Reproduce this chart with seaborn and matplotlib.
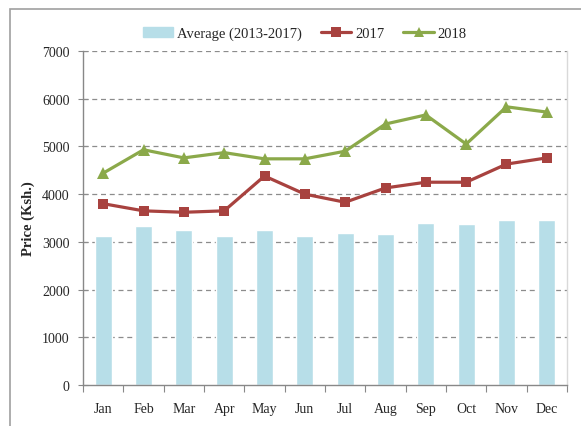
import numpy as np
import pandas as pd
import matplotlib
matplotlib.use('Agg')
import matplotlib.pyplot as plt
import matplotlib.patches as mpatches
from matplotlib.lines import Line2D
from matplotlib.ticker import MultipleLocator
import seaborn as sns

months = ['Jan', 'Feb', 'Mar', 'Apr', 'May', 'Jun', 'Jul', 'Aug', 'Sep', 'Oct', 'Nov', 'Dec']
avg_2013_2017 = [3130, 3340, 3240, 3130, 3240, 3130, 3185, 3160, 3395, 3370, 3450, 3450]
price_2017 = [3800, 3650, 3620, 3650, 4380, 4000, 3830, 4130, 4250, 4250, 4630, 4760]
price_2018 = [4440, 4930, 4760, 4870, 4740, 4740, 4900, 5470, 5660, 5050, 5830, 5720]

bar_col = '#B7DEE8'
red = '#A8423F'
green = '#8BA94A'

sns.set_style('white')
plt.rcParams['font.family'] = ['Liberation Serif', 'DejaVu Serif']

df = pd.DataFrame({'month': months, 'avg': avg_2013_2017,
                   'y2017': price_2017, 'y2018': price_2018})
df['pos'] = np.arange(len(months))

fig = plt.figure(figsize=(5.81, 4.27), dpi=100)
# outer frame of the chart
fig.patches.append(mpatches.Rectangle((10 / 581, -0.1), 1.2, 1.1 - 10 / 427,
                                      transform=fig.transFigure, fill=False,
                                      edgecolor='#A0A0A0', linewidth=1.2))
ax = fig.add_axes([83 / 581, 1 - 386 / 427, 484 / 581, 334 / 427])

sns.barplot(data=df, x='month', y='avg', color=bar_col, width=0.42,
            saturation=1, ax=ax, zorder=2)
sns.lineplot(data=df, x='pos', y='y2017', color=red, marker='s', markersize=7,
             markeredgewidth=0, linewidth=2.3, ax=ax, zorder=3)
sns.lineplot(data=df, x='pos', y='y2018', color=green, marker='^', markersize=8,
             markeredgewidth=0, linewidth=2.3, ax=ax, zorder=3)

ax.set_xlim(-0.5, 11.5)
ax.set_ylim(0, 7000)
ax.yaxis.set_major_locator(MultipleLocator(1000))
ax.set_xlabel('')
ax.set_ylabel('Price (Ksh.)', fontsize=10.5, fontweight='bold', labelpad=5)

for y in range(1000, 7001, 1000):
    ax.axhline(y, color='#8C8C8C', linestyle=(0, (4, 3)), linewidth=0.9, zorder=1)

for s in ['left', 'bottom']:
    ax.spines[s].set_color('#888888')
    ax.spines[s].set_linewidth(1)
ax.spines['top'].set_visible(False)
ax.spines['right'].set_color('#D9D9D9')
ax.spines['right'].set_linewidth(1)

ax.tick_params(axis='y', which='major', direction='inout', length=7, width=0.8,
               color='#888888', labelsize=10, pad=6, left=True)
ax.tick_params(axis='x', which='major', length=0, labelsize=10, pad=12)
ax.set_xticks(np.arange(-0.5, 12, 1), minor=True)
ax.tick_params(axis='x', which='minor', direction='out', length=5, width=0.8,
               color='#888888', bottom=True)

handles = [mpatches.Patch(color=bar_col, label='Average (2013-2017)'),
           Line2D([], [], color=red, marker='s', markersize=7, linewidth=2.3,
                  markeredgewidth=0, label='2017'),
           Line2D([], [], color=green, marker='^', markersize=7, linewidth=2.3,
                  markeredgewidth=0, label='2018')]
ax.legend(handles=handles, loc='center', bbox_to_anchor=(0.458, 1.052), ncol=3,
          frameon=False, fontsize=10.5, handlelength=2.1, handletextpad=0.25,
          columnspacing=1.3)

fig.savefig('out.png', dpi=100)
